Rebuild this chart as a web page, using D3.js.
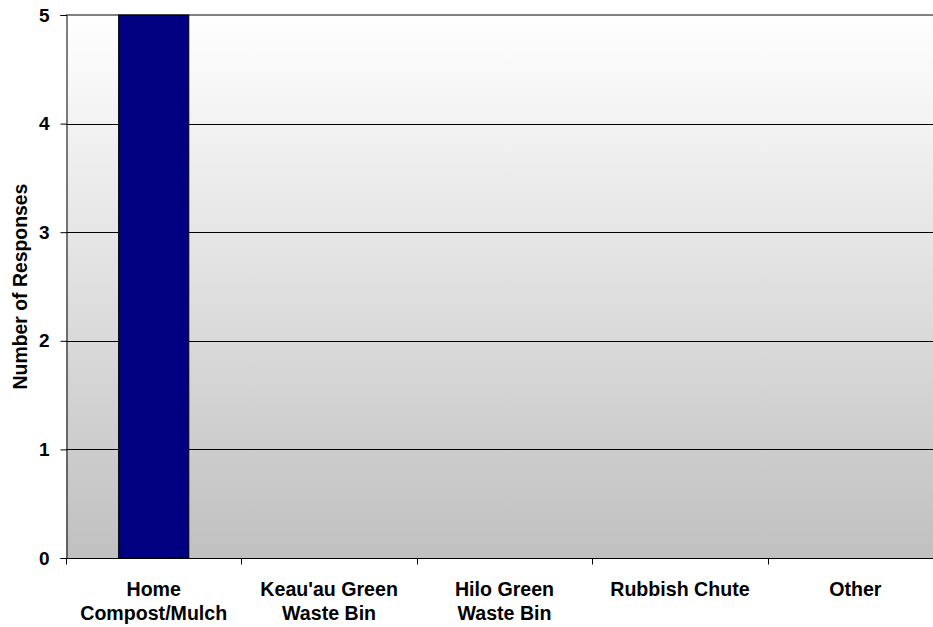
<!DOCTYPE html>
<html><head><meta charset="utf-8">
<script src="https://cdn.jsdelivr.net/npm/d3@7"></script>
<style>body{margin:0;background:#fff}svg{display:block}</style>
</head><body>
<script>
const categories = [["Home","Compost/Mulch"],["Keau'au Green","Waste Bin"],["Hilo Green","Waste Bin"],["Rubbish Chute"],["Other"]];
const values = [5, 0, 0, 0, 0];
const yTicks = [0,1,2,3,4,5];
const yLabel = "Number of Responses";

const W = 933, H = 627;
const m = {left:66, top:15, right:943, bottom:558};
const FONT = "Arial, 'Liberation Sans', sans-serif";
const svg = d3.select("body").append("svg").attr("width",W).attr("height",H);
const defs = svg.append("defs");
const g = defs.append("linearGradient").attr("id","bg").attr("x1",0).attr("y1",0).attr("x2",0).attr("y2",1);
g.append("stop").attr("offset","0%").attr("stop-color","#ffffff");
g.append("stop").attr("offset","100%").attr("stop-color","#c0c0c0");

const x = d3.scaleBand().domain(categories.map((d,i)=>i)).range([m.left,m.right]).paddingInner(0).paddingOuter(0);
const y = d3.scaleLinear().domain([0,5]).range([m.bottom,m.top]);

svg.append("rect").attr("x",m.left).attr("y",m.top).attr("width",m.right-m.left).attr("height",m.bottom-m.top).attr("fill","url(#bg)");

svg.append("g").selectAll("line").data(yTicks.filter(t=>t>0 && t<5)).join("line")
  .attr("x1",m.left).attr("x2",m.right).attr("y1",d=>Math.round(y(d))+0.5).attr("y2",d=>Math.round(y(d))+0.5)
  .attr("stroke","#000").attr("stroke-width",1);
svg.append("line").attr("x1",m.left).attr("x2",m.right).attr("y1",y(5)).attr("y2",y(5)).attr("stroke","#808080").attr("stroke-width",2);

const bw = x.bandwidth()*0.4;
svg.append("g").selectAll("rect").data(values).join("rect")
  .attr("x",(d,i)=>x(i)+x.bandwidth()/2-bw/2).attr("width",bw)
  .attr("y",d=>y(d)).attr("height",d=>y(0)-y(d))
  .attr("fill","#000080").attr("stroke","#000").attr("stroke-width",1);

const yAxis = svg.append("g").attr("transform",`translate(${m.left+0.5},0)`)
  .call(d3.axisLeft(y).tickValues(yTicks).tickFormat(d3.format("d")).tickSize(6).tickPadding(11));
yAxis.select(".domain").attr("stroke","#000");
yAxis.selectAll(".tick line").attr("stroke","#000");
yAxis.selectAll("text").attr("font-family",FONT).attr("font-weight","bold").attr("font-size","19px").attr("fill","#000");

const xAxis = svg.append("g").attr("transform",`translate(0,${m.bottom+0.5})`);
xAxis.append("line").attr("x1",m.left).attr("x2",m.right).attr("stroke","#000");
xAxis.selectAll("line.t").data(d3.range(categories.length)).join("line").attr("class","t")
  .attr("x1",i=>Math.round(x(i))+0.5).attr("x2",i=>Math.round(x(i))+0.5).attr("y1",0).attr("y2",6).attr("stroke","#000");
xAxis.selectAll("text").data(categories).join("text")
  .attr("transform",(d,i)=>`translate(${x(i)+x.bandwidth()/2},37)`)
  .attr("text-anchor","middle").attr("font-family",FONT).attr("font-weight","bold").attr("font-size","19.6px").attr("fill","#000")
  .each(function(d){ d3.select(this).selectAll("tspan").data(d).join("tspan").attr("x",0).attr("dy",(t,j)=>j?"24":"0").text(t=>t); });

svg.append("text").attr("transform",`translate(27,${(m.top+m.bottom)/2}) rotate(-90)`)
  .attr("text-anchor","middle").attr("font-family",FONT).attr("font-weight","bold").attr("font-size","19.4px").attr("fill","#000")
  .text(yLabel);
</script>
</body></html>
